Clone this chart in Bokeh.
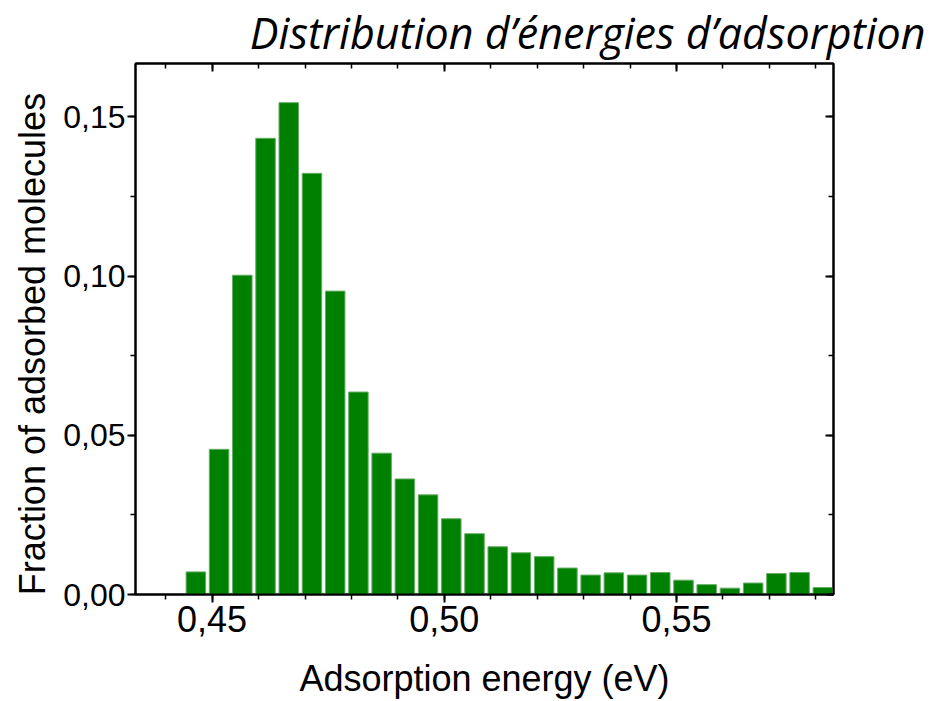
from bokeh.plotting import figure
from bokeh.models import LinearAxis, FixedTicker, Range1d
from bokeh.embed import file_html
from bokeh.resources import INLINE

# Histogram bins: bin centres (eV) and fraction of adsorbed molecules per bin
energy_centers = [0.4465, 0.4515, 0.4565, 0.4615, 0.4665, 0.4715, 0.4765,
                  0.4815, 0.4865, 0.4915, 0.4965, 0.5015, 0.5065, 0.5115,
                  0.5165, 0.5215, 0.5265, 0.5315, 0.5365, 0.5415, 0.5465,
                  0.5515, 0.5565, 0.5615, 0.5665, 0.5715, 0.5765, 0.5815]
fractions = [0.0071, 0.0456, 0.1003, 0.1433, 0.1545, 0.1323, 0.0953,
             0.0636, 0.0444, 0.0363, 0.0313, 0.0238, 0.0191, 0.0150,
             0.0131, 0.0119, 0.0083, 0.0061, 0.0068, 0.0061, 0.0069,
             0.0045, 0.0031, 0.0020, 0.0036, 0.0066, 0.0069, 0.0022]

x_major_ticks = [0.45, 0.50, 0.55]
x_tick_labels = ["0,45", "0,50", "0,55"]
x_minor_ticks = [0.44, 0.45, 0.46, 0.47, 0.48, 0.49, 0.50, 0.51, 0.52,
                 0.53, 0.54, 0.55, 0.56, 0.57, 0.58]
y_major_ticks = [0.0, 0.05, 0.10, 0.15]
y_tick_labels = ["0,00", "0,05", "0,10", "0,15"]
y_minor_ticks = [0.0, 0.025, 0.05, 0.075, 0.10, 0.125, 0.15]

title_text = "Distribution d\u2019\u00e9nergies d\u2019adsorption"
x_title = "Adsorption energy (eV)"
# trailing no-break spaces nudge the rotated title slightly toward the baseline
y_title = "Fraction of adsorbed molecules\u00a0\u00a0\u00a0"

SANS = "Liberation Sans"

p = figure(width=941, height=701, output_backend="svg", toolbar_location=None,
           x_range=Range1d(0.4335, 0.5838), y_range=Range1d(0.0, 0.1668),
           min_border_left=135, min_border_right=108,
           min_border_top=63, min_border_bottom=106)
p.background_fill_color = "white"
p.border_fill_color = "white"
p.xgrid.visible = False
p.ygrid.visible = False
p.outline_line_color = "black"
p.outline_line_width = 2

p.vbar(x=energy_centers, top=fractions, bottom=0, width=0.0042,
       fill_color="#008000", line_color="#66ad66", line_width=1)

xt = FixedTicker(ticks=x_major_ticks, minor_ticks=x_minor_ticks)
yt = FixedTicker(ticks=y_major_ticks, minor_ticks=y_minor_ticks)

def style_axis(ax, ticker, inward):
    ax.ticker = ticker
    ax.axis_line_color = "black"
    ax.axis_line_width = 2
    ax.major_tick_line_color = "black"
    ax.major_tick_line_width = 2
    ax.minor_tick_line_color = "black"
    ax.minor_tick_line_width = 1.5
    if inward:
        ax.major_tick_in, ax.major_tick_out = 8, 0
        ax.minor_tick_in, ax.minor_tick_out = 5, 0
        ax.major_label_text_font_size = "0px"
        ax.major_label_text_alpha = 0
        ax.major_label_standoff = 0
    else:
        ax.major_tick_in, ax.major_tick_out = 0, 8
        ax.minor_tick_in, ax.minor_tick_out = 0, 5

xa = p.xaxis[0]
style_axis(xa, xt, False)
xa.major_label_overrides = dict(zip(x_major_ticks, x_tick_labels))
xa.major_label_text_font = SANS
xa.major_label_text_font_size = "36px"
xa.major_label_text_color = "black"
xa.major_label_standoff = 3
xa.axis_label = x_title
xa.axis_label_text_font = SANS
xa.axis_label_text_font_size = "36px"
xa.axis_label_text_font_style = "normal"
xa.axis_label_text_color = "black"
xa.axis_label_standoff = 23

ya = p.yaxis[0]
style_axis(ya, yt, False)
ya.major_label_overrides = dict(zip(y_major_ticks, y_tick_labels))
ya.major_label_text_font = SANS
ya.major_label_text_font_size = "32px"
ya.major_label_text_color = "black"
ya.major_label_standoff = 2
ya.axis_label = y_title
ya.axis_label_text_font = SANS
ya.axis_label_text_font_size = "36px"
ya.axis_label_text_font_style = "normal"
ya.axis_label_text_color = "black"
ya.axis_label_standoff = 7

top_axis = LinearAxis()
style_axis(top_axis, FixedTicker(ticks=x_major_ticks, minor_ticks=x_minor_ticks), True)
p.add_layout(top_axis, "above")

right_axis = LinearAxis()
style_axis(right_axis, FixedTicker(ticks=y_major_ticks, minor_ticks=y_minor_ticks), True)
p.add_layout(right_axis, "right")

p.title.text = title_text
p.title.align = "right"
p.title.vertical_align = "top"
p.title.offset = -92
p.title.text_font = "Open Sans"
p.title.text_font_style = "italic"
p.title.text_font_size = "43px"
p.title.text_color = "black"
p.title.standoff = 0

open("out.html", "w").write(file_html(p, INLINE))
